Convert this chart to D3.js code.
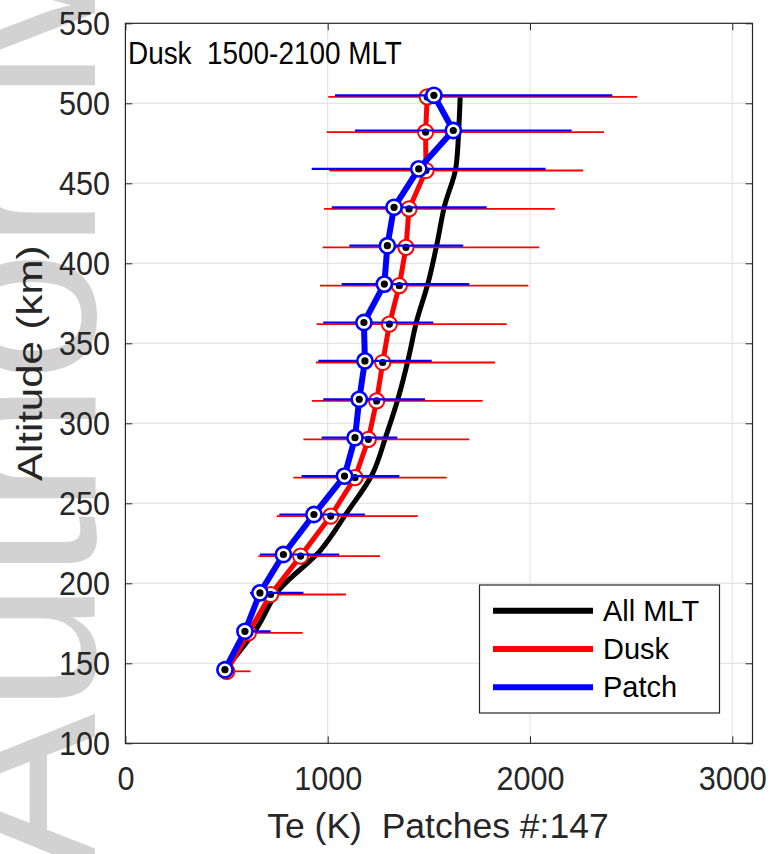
<!DOCTYPE html>
<html><head><meta charset="utf-8">
<script src="https://cdn.jsdelivr.net/npm/d3@7"></script>
<style>
body{margin:0;background:#fff}
text{font-family:"Liberation Sans",Arial,Helvetica,sans-serif;white-space:pre}
</style>
</head><body>
<svg id="c" width="773" height="854"></svg>
<script>
// ---------- data ----------
const altPatch = [146, 170, 194, 218, 243, 267, 291, 315, 339, 363, 387, 411, 435, 459, 483, 505];
const tePatch  = [492, 591, 665, 781, 932, 1083, 1135, 1156, 1184, 1179, 1280, 1295, 1328, 1450, 1621, 1525];
const patchLo  = [470, 560, 616, 665, 761, 871, 970, 978, 954, 978, 1069, 1107, 1020, 921, 1135, 1036];
const patchHi  = [520, 718, 880, 1057, 1184, 1354, 1344, 1481, 1514, 1522, 1700, 1670, 1786, 2077, 2206, 2407];

const altDusk  = [145, 169, 193, 217, 242, 266, 290, 314, 338, 362, 386, 410, 434, 458, 482, 504];
const teDusk   = [501, 608, 718, 866, 1015, 1135, 1201, 1242, 1272, 1305, 1354, 1387, 1402, 1486, 1484, 1492];
const duskLo   = [480, 560, 620, 657, 748, 830, 880, 922, 942, 945, 962, 975, 982, 1008, 995, 1003];
const duskHi   = [619, 876, 1090, 1259, 1445, 1588, 1700, 1766, 1827, 1885, 1992, 2046, 2123, 2263, 2366, 2530];

const altAll   = [148, 172, 196, 220, 244, 268, 292, 316, 340, 364, 388, 412, 436, 460, 484, 504];
const teAll    = [505, 650, 760, 960, 1094, 1220, 1288, 1349, 1398, 1440, 1497, 1540, 1578, 1634, 1648, 1655];

const xTicks = [0, 1000, 2000, 3000];
const yTicks = [100, 150, 200, 250, 300, 350, 400, 450, 500, 550];
const seriesNames = ["All MLT", "Dusk", "Patch"];
const seriesColors = ["#000000", "#ff0000", "#0000ff"];
const titleText = "Dusk  1500-2100 MLT";
const xLabel = "Te (K)  Patches #:147";
const yLabel = "Altitude (km)";
const watermark = "Author Manuscript";

// ---------- layout ----------
const svg = d3.select("#c");
const L = 125.4, R = 752.5, T = 23.3, B = 743.3;
const x = d3.scaleLinear().domain([0, 3100]).range([L, R]);
const y = d3.scaleLinear().domain([100, 550]).range([B, T]);
const axisColor = "#262626";

// watermark
svg.append("text")
  .attr("transform", "translate(95,872) rotate(-90)")
  .attr("font-size", 238).attr("fill", "#d2d2d2")
  .text(watermark);

// grid
const grid = svg.append("g").attr("stroke", "#dfdfdf").attr("stroke-width", 1);
grid.selectAll(".gx").data(xTicks.slice(1)).join("line")
  .attr("x1", d => x(d)).attr("x2", d => x(d)).attr("y1", T).attr("y2", B);
grid.selectAll(".gy").data(yTicks.slice(1, -1)).join("line")
  .attr("y1", d => y(d)).attr("y2", d => y(d)).attr("x1", L).attr("x2", R);

// axes
function styleAxis(g) {
  g.select(".domain").remove();
  g.selectAll(".tick line").attr("stroke", axisColor).attr("stroke-width", 1);
  g.selectAll(".tick text").attr("fill", axisColor)
    .attr("font-family", "'Liberation Sans',Arial,sans-serif");
}
svg.append("g").attr("transform", `translate(0,${B})`)
  .call(d3.axisBottom(x).tickValues(xTicks).tickFormat(d3.format("d")).tickSizeInner(-7).tickSizeOuter(0).tickPadding(23))
  .call(styleAxis)
  .call(g => g.selectAll(".tick text").attr("font-size", 34).attr("transform", "scale(0.9,1)"));
svg.append("g").attr("transform", `translate(0,${T})`)
  .call(d3.axisTop(x).tickValues(xTicks).tickFormat("").tickSizeInner(-7).tickSizeOuter(0))
  .call(styleAxis);
svg.append("g").attr("transform", `translate(${L},0)`)
  .call(d3.axisLeft(y).tickValues(yTicks).tickFormat(d3.format("d")).tickSizeInner(-7).tickSizeOuter(0).tickPadding(17))
  .call(styleAxis)
  .call(g => g.selectAll(".tick text").attr("font-size", 34).attr("transform", "scale(0.9,1)"));
svg.append("g").attr("transform", `translate(${R},0)`)
  .call(d3.axisRight(y).tickValues(yTicks).tickFormat("").tickSizeInner(-7).tickSizeOuter(0))
  .call(styleAxis);

// frame
svg.append("rect").attr("x", L).attr("y", T).attr("width", R - L).attr("height", B - T)
  .attr("fill", "none").attr("stroke", axisColor).attr("stroke-width", 1.2);

// series
const line = d3.line().x(d => x(d[0])).y(d => y(d[1]));
const smooth = d3.line().x(d => x(d[0])).y(d => y(d[1])).curve(d3.curveMonotoneY);

svg.append("path").attr("d", smooth(d3.zip(teAll, altAll)))
  .attr("fill", "none").attr("stroke", seriesColors[0]).attr("stroke-width", 5);

function drawSeries(te, alt, lo, hi, color, lw, ew, mw) {
  const g = svg.append("g");
  g.selectAll(".eb").data(d3.range(te.length)).join("line")
    .attr("x1", i => x(lo[i])).attr("x2", i => x(hi[i]))
    .attr("y1", i => y(alt[i])).attr("y2", i => y(alt[i]))
    .attr("stroke", color).attr("stroke-width", ew);
  g.append("path").attr("d", line(d3.zip(te, alt)))
    .attr("fill", "none").attr("stroke", color).attr("stroke-width", lw).attr("stroke-linejoin", "round");
  g.selectAll(".mk").data(d3.range(te.length)).join("circle")
    .attr("cx", i => x(te[i])).attr("cy", i => y(alt[i])).attr("r", 7.6)
    .attr("fill", "#fff").attr("stroke", color).attr("stroke-width", mw);
  g.selectAll(".dt").data(d3.range(te.length)).join("circle")
    .attr("cx", i => x(te[i])).attr("cy", i => y(alt[i])).attr("r", 3.6)
    .attr("fill", "#000");
}
drawSeries(teDusk, altDusk, duskLo, duskHi, seriesColors[1], 5, 1.8, 2);
drawSeries(tePatch, altPatch, patchLo, patchHi, seriesColors[2], 6, 2.2, 2.6);

// title
svg.append("text").attr("transform", "translate(128,64) scale(0.9,1)")
  .attr("font-size", 31).attr("fill", "#000")
  .text(titleText);

// axis labels
svg.append("text").attr("x", (L + R) / 2 - 1).attr("y", 838).attr("text-anchor", "middle")
  .attr("font-size", 35.5).attr("fill", axisColor).text(xLabel);
svg.append("text").attr("transform", `translate(42,${(T + B) / 2 - 20}) rotate(-90) scale(1.2,1)`)
  .attr("text-anchor", "middle").attr("font-size", 35).attr("fill", axisColor).text(yLabel);

// legend
const lg = svg.append("g");
lg.append("rect").attr("x", 479.5).attr("y", 585).attr("width", 240).attr("height", 128)
  .attr("fill", "#fff").attr("stroke", axisColor).attr("stroke-width", 1.2);
seriesNames.forEach((n, i) => {
  const yy = 610.7 + i * 38.3;
  lg.append("line").attr("x1", 493).attr("x2", 593).attr("y1", yy).attr("y2", yy)
    .attr("stroke", seriesColors[i]).attr("stroke-width", 6);
  lg.append("text").attr("x", 603).attr("y", yy + 10).attr("font-size", 29).attr("fill", "#000").text(n);
});
</script>
</body></html>
